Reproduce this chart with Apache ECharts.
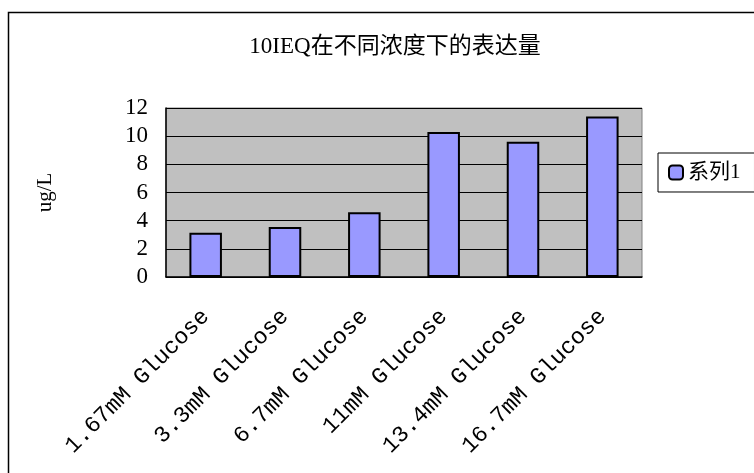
<!DOCTYPE html>
<html>
<head>
<meta charset="utf-8">
<script src="https://cdn.jsdelivr.net/npm/echarts@6/dist/echarts.min.js"></script>
<style>
  html, body { margin: 0; padding: 0; background: #fff; }
  #chart { width: 754px; height: 473px; }
</style>
</head>
<body>
<div id="chart"></div>
<script>
const categories = ['1.67mM Glucose', '3.3mM Glucose', '6.7mM Glucose', '11mM Glucose', '13.4mM Glucose', '16.7mM Glucose'];
const seriesName = '系列1';
const values = [3.15, 3.55, 4.6, 10.3, 9.6, 11.4];
const yTicks = { min: 0, max: 12, interval: 2 };

const chart = echarts.init(document.getElementById('chart'));
const serif = "'Liberation Serif', 'DejaVu Serif', 'Noto Sans CJK SC', serif";

chart.setOption({
    backgroundColor: '#ffffff',
    animation: false,
    title: {
        text: '10IEQ在不同浓度下的表达量',
        left: 390,
        textAlign: 'center',
        top: 30,
        textStyle: {
            fontFamily: serif,
            fontSize: 23,
            fontWeight: 'normal',
            color: '#000'
        }
    },
    legend: {
        data: [seriesName],
        left: 658,
        top: 153,
        orient: 'vertical',
        borderColor: '#000',
        borderWidth: 1,
        padding: [9, 14, 9, 10],
        itemWidth: 14,
        itemHeight: 14,
        itemGap: 6,
        textStyle: { fontFamily: serif, fontSize: 21, color: '#000' }
    },
    grid: {
        left: 166,
        right: 112,
        top: 108,
        bottom: 196,
        show: true,
        backgroundColor: '#c0c0c0',
        borderColor: '#808080',
        borderWidth: 1
    },
    xAxis: {
        type: 'category',
        data: categories,
        axisLine: { lineStyle: { color: '#000', width: 1.5 } },
        axisTick: { inside: true, length: 8, lineStyle: { color: '#000' } },
        axisLabel: {
            rotate: 45,
            margin: 36,
            interval: 0,
            fontFamily: "'Liberation Mono', 'DejaVu Sans Mono', monospace",
            fontSize: 23,
            color: '#000'
        }
    },
    yAxis: {
        type: 'value',
        min: yTicks.min,
        max: yTicks.max,
        interval: yTicks.interval,
        name: 'ug/L',
        nameLocation: 'middle',
        nameGap: 110,
        nameTextStyle: { fontFamily: serif, fontSize: 21, color: '#000' },
        axisLine: { show: true, lineStyle: { color: '#000', width: 1.5 } },
        axisTick: { show: true, inside: true, length: 8, lineStyle: { color: '#000' } },
        axisLabel: { margin: 18, fontFamily: serif, fontSize: 23, color: '#000' },
        splitLine: { lineStyle: { color: '#000', width: 1 } }
    },
    series: [{
        name: seriesName,
        type: 'bar',
        data: values,
        barWidth: '41%',
        itemStyle: { color: '#9999ff', borderColor: '#000', borderWidth: 2 }
    }],
    graphic: [{
        type: 'rect',
        shape: { x: 8.5, y: 12.5, width: 800, height: 500 },
        style: { fill: null, stroke: '#000', lineWidth: 1.5 },
        silent: true,
        z: -1
    }]
});
</script>
</body>
</html>
